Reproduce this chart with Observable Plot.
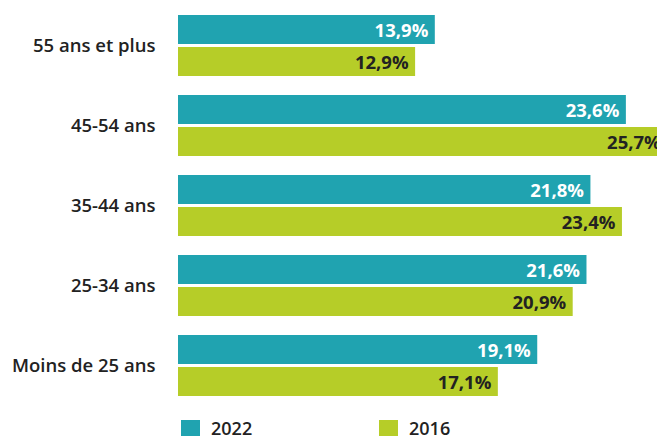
<!DOCTYPE html>
<html>
<head>
<meta charset="utf-8">
<script src="https://cdn.jsdelivr.net/npm/d3@7"></script>
<script src="https://cdn.jsdelivr.net/npm/@observablehq/plot@0.6"></script>
<style>
  html, body { margin: 0; padding: 0; background: #fff; overflow: hidden; }
  body { width: 657px; height: 441px; font-family: "Open Sans", sans-serif; color: #222; }
  #legend { position: relative; height: 31px; }
  .item { position: absolute; top: 6px; display: flex; align-items: center; font-size: 18px; line-height: normal; font-weight: 600; color: #222; }
  .sw { width: 19px; height: 16px; margin-right: 11px; }
</style>
</head>
<body>
<div id="chart"></div>
<div id="legend"></div>
<script>
const categories = ["55 ans et plus", "45-54 ans", "35-44 ans", "25-34 ans", "Moins de 25 ans"];
const years = ["2022", "2016"];
const values2022 = [13.9, 23.6, 21.8, 21.6, 19.1];
const values2016 = [12.9, 25.7, 23.4, 20.9, 17.1];
const colors = ["#20a3b0", "#b6cd28"];
const labelColors = ["#ffffff", "#222222"];

const data = [];
categories.forEach((c, i) => {
  data.push({cat: c, year: years[0], value: values2022[i]});
  data.push({cat: c, year: years[1], value: values2016[i]});
});
const fmt = v => v.toFixed(1).replace(".", ",") + "%";

const chart = Plot.plot({
  width: 657,
  height: 410,
  marginTop: 14,
  marginBottom: 13,
  marginLeft: 161,
  marginRight: 0,
  style: {fontFamily: "'Open Sans', sans-serif", fontSize: "18.5px", fontWeight: 600, color: "#222", background: "#fff"},
  facet: {data, y: "cat", marginRight: 0},
  fy: {domain: categories, paddingInner: 0.2375, paddingOuter: 0, label: null, tickSize: 0, tickPadding: 6},
  y: {domain: years, paddingInner: 0.1, paddingOuter: 0, axis: null},
  x: {domain: [0, 25.18], axis: null},
  color: {domain: years, range: colors},
  marks: [
    Plot.barX(data, {y: "year", x: "value", fill: "year", insetLeft: 17}),
    Plot.text(data, {
      y: "year", x: "value", text: d => fmt(d.value),
      textAnchor: "end", dx: -7, dy: 1, fontSize: 18.5, fontWeight: 700,
      fill: d => labelColors[years.indexOf(d.year)]
    })
  ]
});
document.getElementById("chart").appendChild(chart);

const legend = document.getElementById("legend");
const lx = [181, 379];
years.forEach((y, i) => {
  const it = document.createElement("div");
  it.className = "item";
  it.style.left = lx[i] + "px";
  it.innerHTML = `<span class="sw" style="background:${colors[i]}"></span><span>${y}</span>`;
  legend.appendChild(it);
});
</script>
</body>
</html>
